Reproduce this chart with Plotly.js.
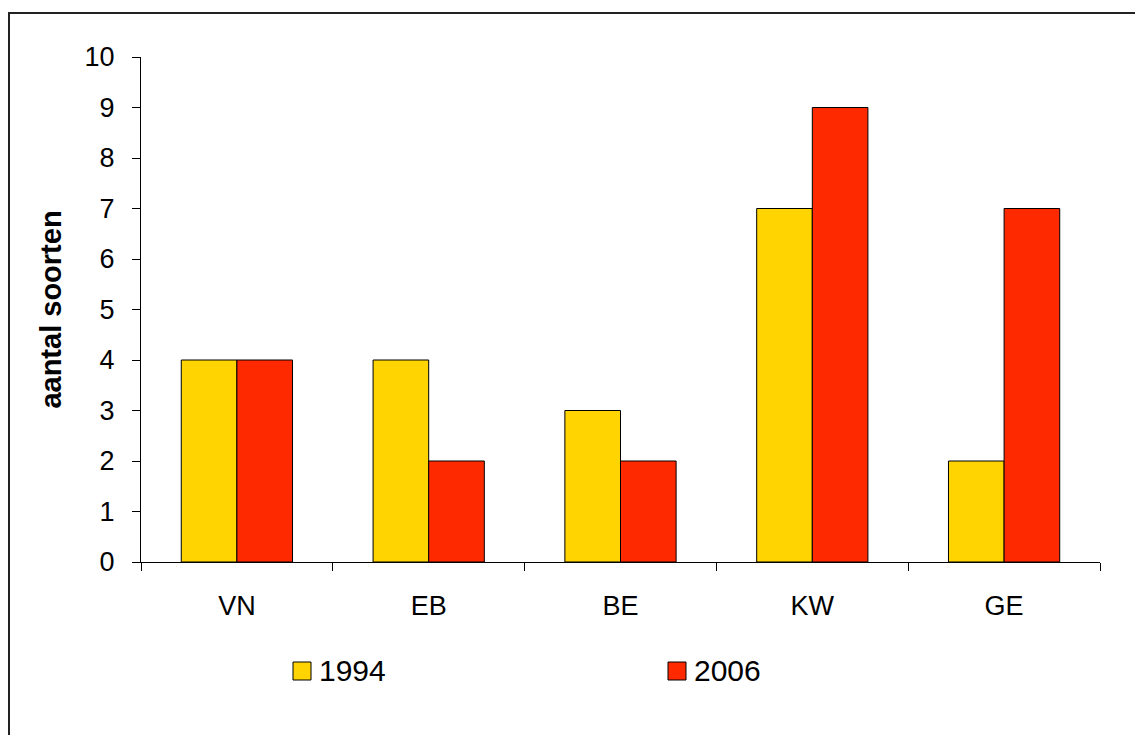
<!DOCTYPE html>
<html>
<head>
<meta charset="utf-8">
<script src="https://cdn.plot.ly/plotly-3.0.1.min.js"></script>
<style>
html,body{margin:0;padding:0;background:#fff;}
#wrap{position:relative;width:1135px;height:735px;overflow:hidden;}
#chart{width:1135px;height:735px;}
#frame{position:absolute;left:8px;top:12px;width:1200px;height:800px;border:2px solid #222;pointer-events:none;box-sizing:border-box;}
</style>
</head>
<body>
<div id="wrap"><div id="chart"></div><div id="frame"></div></div>
<script>
const categories = ["VN", "EB", "BE", "KW", "GE"];
const values1994 = [4, 4, 3, 7, 2];
const values2006 = [4, 2, 2, 9, 7];
const seriesNames = ["1994", "2006"];
const seriesColors = ["#FFD400", "#FF2900"];
const yTicks = [0,1,2,3,4,5,6,7,8,9,10];

const FONT = "Arial, 'Liberation Sans', sans-serif";

const traces = [
  {type:"bar", name:seriesNames[0], x:categories, y:values1994,
   marker:{color:seriesColors[0], line:{color:"#000", width:1}}},
  {type:"bar", name:seriesNames[1], x:categories, y:values2006,
   marker:{color:seriesColors[1], line:{color:"#000", width:1}}}
];

// custom legend (paper coordinates) with larger swatches, as in the original
const plotL = 141, plotW = 1135 - 141 - 35, plotT = 57, plotH = 735 - 57 - 173;
const px = x => (x - plotL) / plotW;
const py = y => (plotT + plotH - y) / plotH;
const legendX = [293, 668];
const shapes = [], annotations = [];
seriesNames.forEach((name, i) => {
  shapes.push({type:"rect", xref:"paper", yref:"paper",
    x0:px(legendX[i]), x1:px(legendX[i] + 18), y0:py(680), y1:py(662),
    fillcolor:seriesColors[i], line:{color:"#000", width:1}});
  annotations.push({xref:"paper", yref:"paper", x:px(legendX[i] + 24), y:py(670),
    xanchor:"left", yanchor:"middle", showarrow:false, text:name,
    font:{family:FONT, size:30, color:"#000"}});
});

const layout = {
  width:1135, height:735,
  margin:{l:141, r:35, t:57, b:173},
  paper_bgcolor:"rgba(0,0,0,0)", plot_bgcolor:"#fff",
  font:{family:FONT, size:27, color:"#000"},
  barmode:"group", bargap:0.42, bargroupgap:0,
  showlegend:false,
  shapes:shapes, annotations:annotations,
  xaxis:{type:"category", showline:true, linecolor:"#000", linewidth:1,
         ticks:"outside", tickson:"boundaries", ticklen:8, tickcolor:"#000",
         showgrid:false, zeroline:false, tickfont:{family:FONT, size:27},
         ticklabelstandoff:20, automargin:false},
  yaxis:{range:[0,10], tickvals:yTicks, showline:true, linecolor:"#000", linewidth:1,
         ticks:"outside", ticklen:8, tickcolor:"#000", showgrid:false, zeroline:false,
         tickfont:{family:FONT, size:27}, automargin:false, ticklabelstandoff:12,
         title:{text:"aantal soorten", font:{family:FONT, size:29, color:"#000", weight:"bold"}, standoff:14}}
};

Plotly.newPlot("chart", traces, layout, {displayModeBar:false, staticPlot:true});
</script>
</body>
</html>
